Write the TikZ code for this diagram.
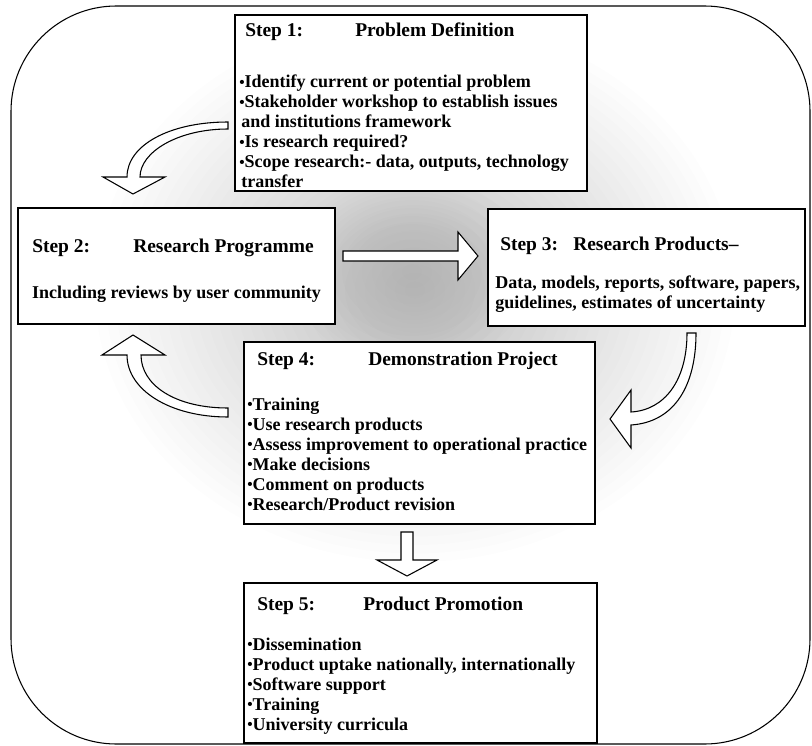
\documentclass[tikz,border=0pt]{standalone}
\usepackage{fontspec}
\setmainfont{Liberation Serif}
\usepackage{graphicx}
\usetikzlibrary{fit}
\newcommand\bu{\raisebox{0.05em}{\scalebox{0.85}{\textbullet}}}
\begin{document}
\begin{tikzpicture}[x=0.75pt,y=-0.75pt,
  box/.style={draw, line width=1pt, fill=white, inner sep=0pt},
  txt/.style={anchor=base west, inner sep=0pt, font=\fontsize{13.5}{15}\selectfont\bfseries},
  ctxt/.style={anchor=base, inner sep=0pt, font=\fontsize{13.5}{15}\selectfont\bfseries},
  ttl/.style={anchor=base west, inner sep=0pt, font=\fontsize{14.6}{16}\selectfont\bfseries},
  blk/.style={draw, line width=0.8pt, fill=white, line join=miter},
  glow/.style={fill=black, opacity=0.007}]
\useasboundingbox (0,0) rectangle (812,745);
% speckled glow behind the boxes
\foreach \r in {1,...,32}
  \fill[glow] (415,290) ellipse ({10*\r} and {8.5*\r});
\foreach \r in {1,...,12}
  \fill[glow] (412,272) ellipse ({10*\r} and {8*\r});
\draw[line width=0.8pt, rounded corners=79pt] (11,6) rectangle (810,744);

% boxes
\node[box, fit={(235,15) (587,191)}] (s1) {};
\node[box, fit={(18,208) (335,324)}] (s2) {};
\node[box, fit={(488,209) (805,326)}] (s3) {};
\node[box, fit={(244,342) (595,524)}] (s4) {};
\node[box, fit={(244,583) (597,743)}] (s5) {};

% Step 1
\node[ttl] (s1a) at (245,37) {Step 1:};
\node[ttl] (s1b) at (355,37) {Problem Definition};
\foreach \t [count=\i] in {{\bu Identify current or potential problem},
  {\bu Stakeholder workshop to establish issues},
  {\hspace{1.5pt}and institutions framework},
  {\bu Is research required?},
  {\bu Scope research:- data, outputs, technology},
  {\hspace{1.5pt}transfer}}
  \node[txt] (s1t\i) at (239,88+20*\i-20) {\t};

% Step 2
\node[ttl] (s2a) at (32,252) {Step 2:};
\node[ttl] (s2b) at (133,252) {Research Programme};
\node[ctxt] (s2t) at (176.5,298) {Including reviews by user community};

% Step 3
\node[ttl] (s3a) at (500,250) {Step 3:};
\node[ttl] (s3b) at (573,250) {Research Products--};
\node[txt] (s3t1) at (495,288) {Data, models, reports, software, papers,};
\node[txt] (s3t2) at (495,308) {guidelines, estimates of uncertainty};

% Step 4
\node[ttl] (s4a) at (257,365) {Step 4:};
\node[ttl] (s4b) at (368,365) {Demonstration Project};
\foreach \t [count=\i] in {{\bu Training},{\bu Use research products},
  {\bu Assess improvement to operational practice},{\bu Make decisions},
  {\bu Comment on products},{\bu Research/Product revision}}
  \node[txt] (s4t\i) at (247,410+20*\i-20) {\t};

% Step 5
\node[ttl] (s5a) at (257,610) {Step 5:};
\node[ttl] (s5b) at (363,610) {Product Promotion};
\foreach \t [count=\i] in {{\bu Dissemination},
  {\bu Product uptake nationally, internationally},
  {\bu Software support},{\bu Training},{\bu University curricula}}
  \node[txt] (s5t\i) at (247,650+20*\i-20) {\t};

% block arrows
% 1 -> 2
\draw[blk] (228,122) .. controls (170,122) and (127,145) .. (127,177)
  -- (103,177) -- (133,194) -- (165,177) -- (140,177)
  .. controls (140,152) and (178,129) .. (228,129) -- cycle;
% 2 -> 3
\draw[blk] (343,251) -- (458,251) -- (458,232) -- (478,256) -- (458,280)
  -- (458,261) -- (343,261) -- cycle;
% 3 -> 4
\draw[blk] (687,333) .. controls (687,380) and (665,410) .. (631,412)
  -- (631,390) -- (610,419) -- (631,448) -- (631,425)
  .. controls (675,422) and (696,385) .. (696,333) -- cycle;
% 4 -> 2
\draw[blk] (228,417) .. controls (170,417) and (127,390) .. (127,355)
  -- (102,355) -- (133,335) -- (165,355) -- (141,355)
  .. controls (141,385) and (175,408) .. (228,408) -- cycle;
% 4 -> 5
\draw[blk] (401,532) -- (413,532) -- (413,560) -- (437,560) -- (407,576)
  -- (377,560) -- (401,560) -- cycle;
\end{tikzpicture}
\end{document}
